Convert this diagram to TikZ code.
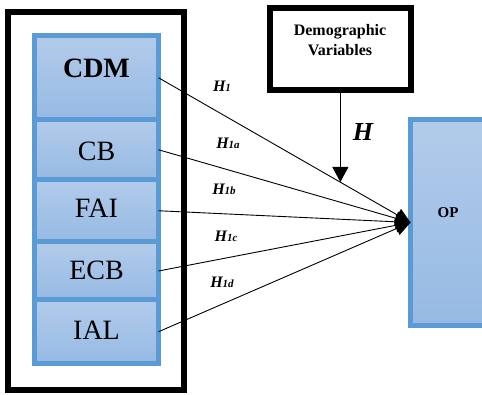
\documentclass[tikz,border=0pt]{standalone}
\usepackage{fontspec}
\setmainfont{LiberationSerif}[Extension=.ttf, UprightFont=*-Regular, BoldFont=*-Bold, ItalicFont=*-Italic, BoldItalicFont=*-BoldItalic]
\usetikzlibrary{arrows.meta,calc}
\definecolor{bborder}{HTML}{5B9BD5}
\definecolor{btop}{HTML}{B2CBEA}
\definecolor{bbot}{HTML}{96BAE4}
\begin{document}
\begin{tikzpicture}[x=1pt,y=-1pt,
  blk/.style={draw=black, line width=6pt, outer sep=0pt, inner sep=0pt},
  vbox/.style={draw=bborder, line width=5pt, top color=btop, bottom color=bbot, outer sep=0pt, inner sep=0pt, minimum width=124pt},
  vtext/.style={font=\fontsize{28}{28}\selectfont, inner sep=0pt},
  hlab/.style={font=\fontsize{16}{16}\selectfont\bfseries\itshape, inner sep=0pt},
  conn/.style={line width=0.9pt, -{Triangle[length=15pt,width=14pt]}}
]
\clip (0,0) rectangle (482,395);
\fill[white] (0,0) rectangle (482,395);
% outer black frame
\node[blk, minimum width=175.5pt, minimum height=378pt] (frame) at (95.75,201) {};
% blue variable boxes
\node[vbox, minimum height=84.5pt] (cdm) at (96.5,77.75) {};
\node[vbox, minimum height=59.5pt] (cb)  at (96.5,149.75) {};
\node[vbox, minimum height=62.5pt] (fai) at (96.5,210.75) {};
\node[vbox, minimum height=58pt]   (ecb) at (96.5,271) {};
\node[vbox, minimum height=63.5pt] (ial) at (96.5,331.75) {};
\node[vtext, font=\fontsize{28}{28}\selectfont\bfseries] (cdmt) at (96.5,68) {CDM};
\node[vtext] (cbt)  at (96.5,151) {CB};
\node[vtext] (fait) at (96.5,208.5) {FAI};
\node[vtext] (ecbt) at (96.5,270) {ECB};
\node[vtext] (ialt) at (96.5,330) {IAL};
% demographic box
\node[blk, minimum width=141.3pt, minimum height=82.6pt] (demo) at (340.35,49) {};
\node[align=center, inner sep=0pt, font=\fontsize{16}{20}\selectfont\bfseries] (demot) at (340,40) {Demographic\\Variables};
% OP box
\node[vbox, minimum width=79.5pt, minimum height=206pt] (op) at (450.25,222.5) {};
\node[inner sep=0pt, font=\fontsize{15}{15}\selectfont\bfseries] (opt) at (448,213) {OP};
% connectors
\draw[conn] (cdm.east) -- (op.west);
\draw[conn] (cb.east)  -- (op.west);
\draw[conn] (fai.east) -- (op.west);
\draw[conn] (ecb.east) -- (op.west);
\draw[conn] (ial.east) -- (op.west);
\coordinate (hend) at ($(cdm.east)!0.72!(op.west)$);
\draw[line width=0.9pt, -{Triangle[length=15pt,width=16pt]}] (demo.south) -- (demo.south |- hend);
\node[inner sep=0pt, font=\fontsize{26}{26}\selectfont\bfseries\itshape] (hbig) at (363,132) {H};
% hypothesis labels
\node[hlab] (h1)  at (222,86)  {H{\fontsize{11}{11}\selectfont 1}};
\node[hlab] (h1a) at (228,143) {H{\fontsize{11}{11}\selectfont 1a}};
\node[hlab] (h1b) at (224,189) {H{\fontsize{11}{11}\selectfont 1b}};
\node[hlab] (h1c) at (226,236) {H{\fontsize{11}{11}\selectfont 1c}};
\node[hlab] (h1d) at (222,282) {H{\fontsize{11}{11}\selectfont 1d}};
\end{tikzpicture}
\end{document}
